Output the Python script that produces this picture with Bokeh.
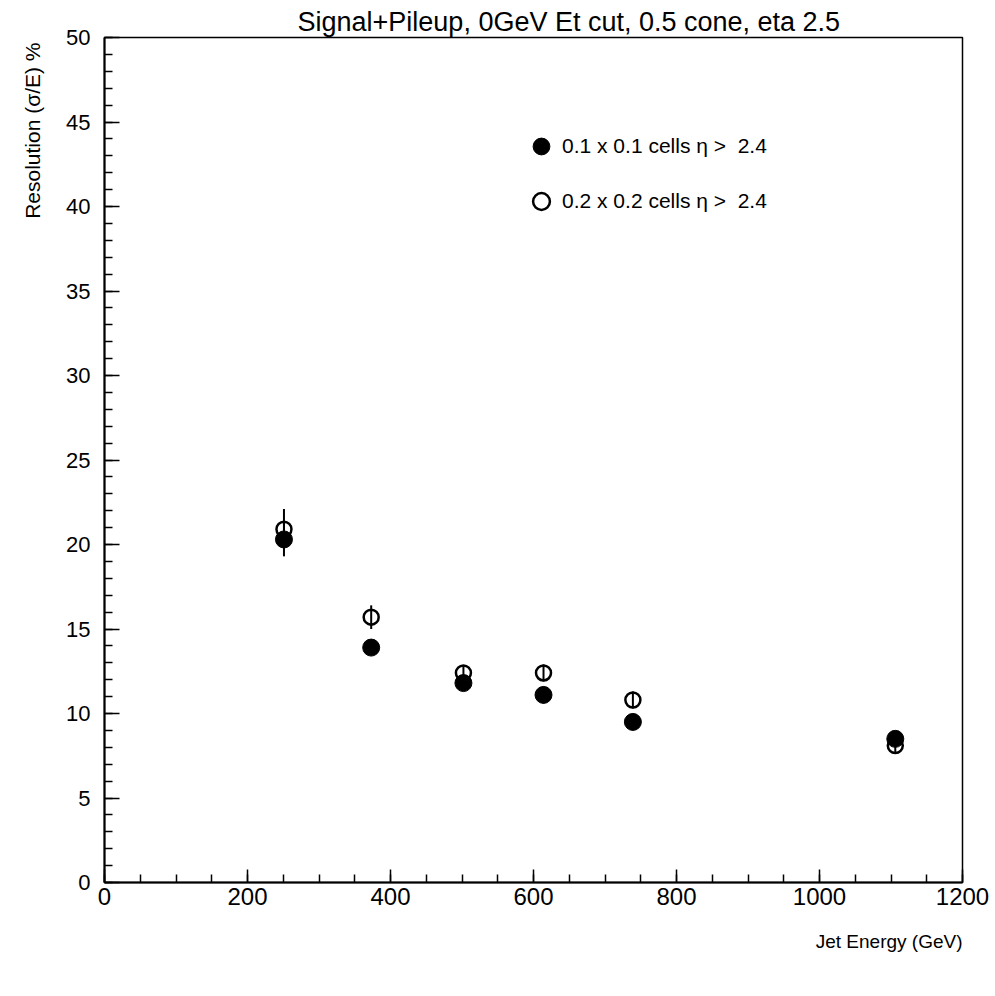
import numpy as np
from bokeh.plotting import figure
from bokeh.models import (Range1d, SingleIntervalTicker, Title, Legend, LegendItem,
                          ColumnDataSource)
from bokeh.embed import file_html
from bokeh.resources import INLINE

# ---- data ----
energy = [251, 373, 502, 614, 739, 1106]
res_01 = [20.3, 13.9, 11.8, 11.1, 9.5, 8.5]      # 0.1 x 0.1 cells (filled)
err_01 = [1.0, 0.3, 0.3, 0.5, 0.4, 0.4]
res_02 = [20.9, 15.7, 12.4, 12.4, 10.8, 8.1]     # 0.2 x 0.2 cells (open)
err_02 = [1.2, 0.7, 0.4, 0.5, 0.5, 0.5]

title_text = "Signal+Pileup, 0GeV Et cut, 0.5 cone, eta 2.5"
x_title = "Jet Energy (GeV)"
y_title = "Resolution (\u03c3/E) %"
label_01 = "0.1 x 0.1 cells \u03b7 >  2.4"
label_02 = "0.2 x 0.2 cells \u03b7 >  2.4"

FONT = "Liberation Sans"

p = figure(width=995, height=996, output_backend="svg", toolbar_location=None,
           x_range=Range1d(0, 1200), y_range=Range1d(0, 50),
           min_border_left=104, min_border_right=33, min_border_top=37,
           min_border_bottom=114)
p.background_fill_color = "white"
p.border_fill_color = "white"
p.xgrid.visible = False
p.ygrid.visible = False
p.outline_line_color = "black"
p.outline_line_width = 1.5

# main title
p.title.text = title_text
p.title.text_font = FONT
p.title.text_font_size = "27px"
p.title.text_font_style = "normal"
p.title.text_color = "black"
p.title.align = "left"
p.title.offset = 193
p.title.standoff = 2

# axes
p.xaxis.ticker = SingleIntervalTicker(interval=200, num_minor_ticks=4)
p.yaxis.ticker = SingleIntervalTicker(interval=5, num_minor_ticks=5)
for ax in (p.xaxis, p.yaxis):
    ax.axis_line_color = "black"
    ax.axis_line_width = 2
    ax.major_tick_line_color = "black"
    ax.minor_tick_line_color = "black"
    ax.major_tick_line_width = 1.5
    ax.minor_tick_line_width = 1.5
    ax.major_tick_out = 0
    ax.minor_tick_out = 0
    ax.major_label_text_font = FONT
    ax.major_label_text_color = "black"
p.xaxis.major_tick_in = 13
p.xaxis.minor_tick_in = 8
p.yaxis.major_tick_in = 15
p.yaxis.minor_tick_in = 8
p.xaxis.major_label_text_font_size = "24px"
p.yaxis.major_label_text_font_size = "22px"
p.xaxis.major_label_standoff = 5
p.yaxis.major_label_standoff = 14

# axis titles as side titles
xt = Title(text=x_title, align="right", text_font=FONT, text_font_size="19px",
           text_font_style="normal", text_color="black", standoff=43)
p.add_layout(xt, "below")
yt = Title(text=y_title, align="right", vertical_align="top", text_font=FONT,
           text_font_size="21px", text_font_style="normal", text_color="black",
           offset=5, standoff=36)
p.add_layout(yt, "left")

# error bars
e = np.array(energy, dtype=float)
r1, s1 = np.array(res_01), np.array(err_01)
r2, s2 = np.array(res_02), np.array(err_02)
p.segment(x0=e, y0=r2 - s2, x1=e, y1=r2 + s2, line_color="black", line_width=2)
p.segment(x0=e, y0=r1 - s1, x1=e, y1=r1 + s1, line_color="black", line_width=2)

src2 = ColumnDataSource(dict(x=energy, y=res_02))
src1 = ColumnDataSource(dict(x=energy, y=res_01))
r_open = p.scatter("x", "y", source=src2, marker="circle", size=15,
                   fill_color=None, line_color="black", line_width=2.5)
r_fill = p.scatter("x", "y", source=src1, marker="circle", size=17,
                   fill_color="black", line_color="black", line_width=1)

legend = Legend(items=[LegendItem(label=label_01, renderers=[r_fill]),
                       LegendItem(label=label_02, renderers=[r_open])],
                location=(416, 660), orientation="vertical",
                padding=0, margin=0, spacing=13, glyph_width=42, glyph_height=42,
                label_standoff=0, label_height=20,
                label_text_font=FONT, label_text_font_size="21px",
                label_text_color="black",
                border_line_color=None, background_fill_alpha=0)
p.add_layout(legend, "center")

open("out.html", "w").write(file_html(p, INLINE))
